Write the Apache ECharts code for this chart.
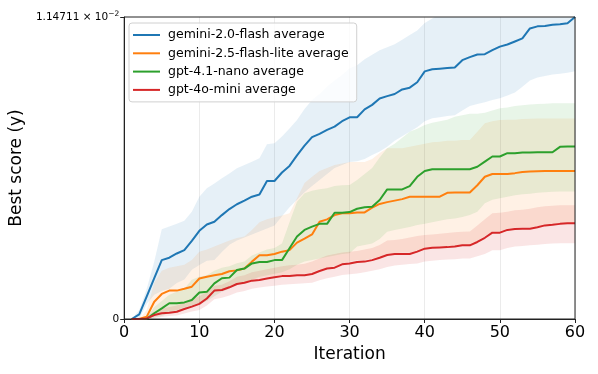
<!DOCTYPE html>
<html><head><meta charset="utf-8">
<script src="https://cdn.jsdelivr.net/npm/echarts@6/dist/echarts.min.js"></script>
<style>html,body{margin:0;padding:0;background:#fff}#c{width:598px;height:374px}</style>
</head><body><div id="c"></div>
<script>
// values in units of the top tick (1.14711e-2)
const iterations = Array.from({length: 60}, (_, i) => i + 1);
const names = ['gemini-2.0-flash average','gemini-2.5-flash-lite average','gpt-4.1-nano average','gpt-4o-mini average'];
const colors = ['#1f77b4','#ff7f0e','#2ca02c','#d62728'];

const geminiFlashMean = [0,0.015,0.075,0.135,0.195,0.203,0.217,0.228,0.259,0.292,0.313,0.322,0.344,0.364,0.380,0.392,0.405,0.412,0.457,0.457,0.485,0.507,0.542,0.574,0.602,0.613,0.626,0.637,0.655,0.668,0.668,0.694,0.709,0.730,0.738,0.745,0.760,0.766,0.784,0.820,0.827,0.829,0.831,0.833,0.857,0.867,0.876,0.877,0.890,0.902,0.909,0.919,0.929,0.962,0.969,0.970,0.974,0.976,0.979,1.0];
const geminiFlashHi = [0,0.03,0.1,0.19,0.297,0.306,0.315,0.325,0.355,0.405,0.433,0.449,0.466,0.482,0.499,0.51,0.521,0.532,0.579,0.582,0.604,0.631,0.659,0.695,0.725,0.745,0.77,0.79,0.808,0.83,0.84,0.86,0.875,0.89,0.9,0.91,0.925,0.94,0.955,0.98,0.995,1.01,1.02,1.03,1.05,1.06,1.07,1.07,1.08,1.09,1.09,1.1,1.1,1.12,1.13,1.13,1.14,1.14,1.15,1.18];
const geminiFlashLo = [0,0,0.05,0.08,0.093,0.10,0.119,0.131,0.163,0.179,0.193,0.195,0.222,0.246,0.26,0.27,0.28,0.29,0.30,0.31,0.34,0.37,0.395,0.42,0.44,0.46,0.48,0.5,0.51,0.52,0.522,0.53,0.543,0.555,0.57,0.59,0.605,0.62,0.635,0.655,0.665,0.668,0.672,0.675,0.69,0.705,0.712,0.718,0.725,0.731,0.74,0.75,0.769,0.79,0.8,0.805,0.81,0.812,0.815,0.82];

const liteMean = [0,0,0.008,0.057,0.083,0.094,0.094,0.10,0.107,0.134,0.14,0.145,0.149,0.158,0.161,0.167,0.19,0.211,0.211,0.215,0.223,0.228,0.253,0.266,0.28,0.322,0.33,0.344,0.35,0.35,0.353,0.353,0.369,0.381,0.387,0.392,0.397,0.405,0.405,0.405,0.405,0.405,0.418,0.419,0.419,0.419,0.443,0.471,0.48,0.48,0.48,0.483,0.487,0.488,0.489,0.49,0.49,0.49,0.49,0.49];
const liteHi = [0,0,0.03,0.12,0.16,0.17,0.175,0.18,0.195,0.223,0.23,0.24,0.25,0.26,0.268,0.273,0.295,0.32,0.33,0.337,0.343,0.35,0.4,0.45,0.471,0.49,0.5,0.51,0.515,0.52,0.52,0.52,0.53,0.55,0.565,0.565,0.565,0.57,0.575,0.58,0.585,0.587,0.59,0.59,0.593,0.593,0.62,0.648,0.655,0.659,0.66,0.66,0.662,0.663,0.664,0.664,0.664,0.664,0.664,0.664];
const liteLo = [0,0,0,0.01,0.02,0.025,0.03,0.04,0.045,0.055,0.07,0.09,0.095,0.105,0.115,0.12,0.13,0.135,0.14,0.14,0.145,0.145,0.15,0.15,0.155,0.165,0.17,0.175,0.185,0.19,0.195,0.195,0.2,0.205,0.215,0.218,0.22,0.22,0.225,0.235,0.238,0.24,0.24,0.242,0.245,0.245,0.26,0.275,0.29,0.29,0.3,0.302,0.303,0.303,0.307,0.312,0.314,0.316,0.318,0.318];

const nanoMean = [0,0,0.001,0.019,0.035,0.052,0.052,0.055,0.063,0.088,0.09,0.118,0.135,0.137,0.162,0.167,0.184,0.189,0.189,0.195,0.195,0.234,0.273,0.295,0.306,0.315,0.315,0.352,0.352,0.354,0.365,0.37,0.372,0.394,0.429,0.429,0.429,0.44,0.471,0.49,0.496,0.496,0.496,0.496,0.496,0.496,0.504,0.521,0.538,0.538,0.549,0.549,0.551,0.551,0.552,0.552,0.552,0.57,0.571,0.571];
const nanoHi = [0,0,0.005,0.04,0.06,0.08,0.09,0.1,0.13,0.14,0.145,0.16,0.17,0.175,0.185,0.19,0.21,0.22,0.23,0.235,0.25,0.32,0.388,0.416,0.425,0.43,0.433,0.44,0.443,0.444,0.46,0.48,0.5,0.535,0.565,0.58,0.6,0.62,0.63,0.642,0.65,0.655,0.66,0.67,0.675,0.68,0.68,0.683,0.69,0.698,0.7,0.705,0.708,0.71,0.712,0.713,0.714,0.714,0.714,0.714];
const nanoLo = [0,0,0,0.005,0.01,0.02,0.025,0.03,0.04,0.05,0.06,0.075,0.09,0.1,0.115,0.12,0.13,0.14,0.145,0.15,0.155,0.165,0.18,0.19,0.195,0.2,0.205,0.21,0.215,0.218,0.24,0.245,0.25,0.265,0.289,0.295,0.3,0.305,0.311,0.315,0.32,0.325,0.33,0.333,0.338,0.344,0.355,0.383,0.395,0.4,0.405,0.41,0.413,0.415,0.418,0.42,0.421,0.422,0.422,0.422];

const miniMean = [0,0,0.002,0.013,0.019,0.021,0.024,0.033,0.041,0.05,0.068,0.094,0.096,0.105,0.116,0.12,0.127,0.129,0.134,0.138,0.142,0.142,0.145,0.145,0.149,0.159,0.167,0.17,0.181,0.184,0.189,0.19,0.195,0.203,0.212,0.215,0.215,0.215,0.223,0.233,0.236,0.237,0.238,0.24,0.244,0.244,0.255,0.269,0.286,0.286,0.295,0.298,0.299,0.299,0.304,0.31,0.312,0.315,0.317,0.317];
const miniHi = [0,0,0.01,0.025,0.035,0.04,0.045,0.055,0.065,0.075,0.09,0.11,0.113,0.125,0.14,0.145,0.155,0.16,0.165,0.17,0.175,0.178,0.18,0.183,0.19,0.2,0.21,0.215,0.22,0.223,0.225,0.23,0.235,0.245,0.26,0.262,0.265,0.27,0.275,0.278,0.28,0.282,0.285,0.287,0.289,0.29,0.31,0.33,0.35,0.352,0.355,0.36,0.362,0.365,0.37,0.373,0.375,0.377,0.377,0.377];
const miniLo = [0,0,0,0.003,0.007,0.01,0.012,0.018,0.025,0.03,0.045,0.065,0.07,0.078,0.088,0.093,0.1,0.104,0.108,0.11,0.113,0.115,0.117,0.118,0.12,0.128,0.135,0.14,0.146,0.148,0.151,0.155,0.16,0.165,0.172,0.177,0.18,0.182,0.184,0.19,0.193,0.195,0.197,0.198,0.2,0.2,0.208,0.215,0.228,0.228,0.235,0.24,0.242,0.244,0.246,0.248,0.25,0.251,0.251,0.251];

const xTicks = [0,10,20,30,40,50,60];
const yTopLabel = '1.14711 × 10';
const yTopExp = '−2';

const means = [geminiFlashMean, liteMean, nanoMean, miniMean];
const his = [geminiFlashHi, liteHi, nanoHi, miniHi];
const los = [geminiFlashLo, liteLo, nanoLo, miniLo];
const bandFill = ['rgba(31,119,180,0.11)','rgba(255,127,14,0.11)','rgba(44,160,44,0.11)','rgba(214,39,40,0.12)'];

const series = [];
means.forEach((m, k) => {
  series.push({
    name: 'band' + k, type: 'custom', silent: true, z: 1, clip: true,
    data: [0],
    renderItem: (params, api) => {
      const pts = [];
      iterations.forEach((x, i) => pts.push(api.coord([x, his[k][i]])));
      for (let i = iterations.length - 1; i >= 0; i--) pts.push(api.coord([iterations[i], los[k][i]]));
      const cs = params.coordSys;
      return {
        type: 'polygon',
        shape: {points: pts},
        style: {fill: bandFill[k], stroke: null},
        clipPath: {type: 'rect', shape: {x: cs.x, y: cs.y, width: cs.width, height: cs.height}}
      };
    }
  });
});
means.forEach((m, k) => {
  series.push({
    name: names[k], type: 'line', symbol: 'none', z: 3,
    data: iterations.map((x, i) => [x, m[i]]),
    lineStyle: {color: colors[k], width: 2}, itemStyle: {color: colors[k]}
  });
});

const chart = echarts.init(document.getElementById('c'), null, {renderer: 'canvas'});
chart.setOption({
  animation: false,
  textStyle: {fontFamily: 'DejaVu Sans'},
  grid: {left: 123, right: 23, top: 17, bottom: 55, show: true, borderColor: '#222', borderWidth: 1, backgroundColor: 'transparent', z: 5},
  legend: {
    data: names, orient: 'vertical', left: 129, top: 23,
    icon: 'rect', itemWidth: 27, itemHeight: 2, itemGap: 4.3,
    backgroundColor: 'rgba(255,255,255,0.8)', borderColor: '#d0d0d0', borderWidth: 1, borderRadius: 3,
    padding: [5, 8, 5, 4],
    textStyle: {fontFamily: 'DejaVu Sans', fontSize: 12.5, color: '#000', lineHeight: 14, padding: [0, 0, 0, 3]}
  },
  xAxis: {
    type: 'value', min: 0, max: 60, interval: 10,
    name: 'Iteration', nameLocation: 'middle', nameGap: 27,
    nameTextStyle: {fontFamily: 'DejaVu Sans', fontSize: 17, color: '#000'},
    axisLine: {show: true, lineStyle: {color: '#222'}},
    axisTick: {show: true, length: 4, lineStyle: {color: '#222'}},
    axisLabel: {fontFamily: 'DejaVu Sans', fontSize: 16, color: '#000', margin: 6},
    splitLine: {show: true, lineStyle: {color: '#e6e6e6', width: 0.8}}
  },
  yAxis: {
    type: 'value', min: 0, max: 1, interval: 1,
    name: 'Best score (y)', nameLocation: 'middle', nameGap: 98, nameRotate: 90,
    nameTextStyle: {fontFamily: 'DejaVu Sans', fontSize: 17, color: '#000'},
    axisLine: {show: true, lineStyle: {color: '#222'}},
    axisTick: {show: true, length: 4, lineStyle: {color: '#222'}},
    axisLabel: {
      fontFamily: 'DejaVu Sans', fontSize: 10.5, color: '#000', margin: 5,
      formatter: v => v === 0 ? '0' : yTopLabel + '{sup|' + yTopExp + '}',
      rich: {sup: {fontSize: 7.5, verticalAlign: 'top', padding: [0, 0, 6, 0], fontFamily: 'DejaVu Sans', color: '#000'}}
    },
    splitLine: {show: false}
  },
  series: series
});
</script></body></html>
